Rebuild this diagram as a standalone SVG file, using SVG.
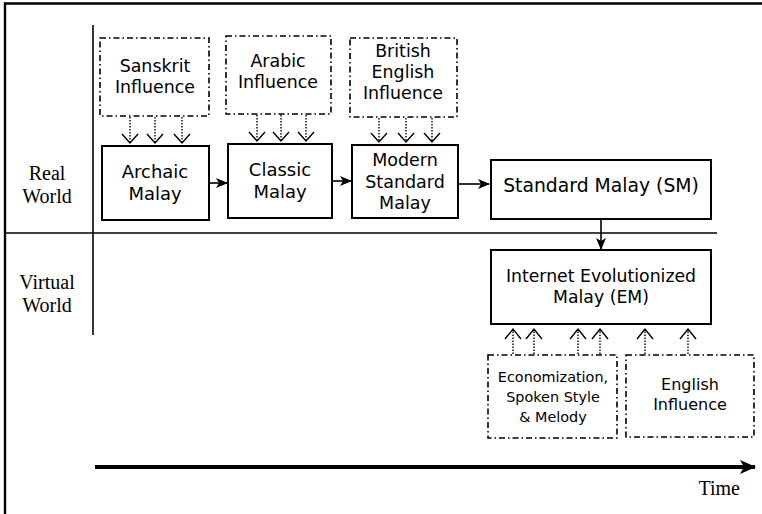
<svg xmlns="http://www.w3.org/2000/svg" width="762" height="514" viewBox="0 0 762 514">
<defs>
<style>
.frame{stroke:#000;stroke-width:2.4;fill:none}
.sep{stroke:#000;stroke-width:1.6;fill:none}
.box{stroke:#000;stroke-width:2;fill:#fff}
.dbox{stroke:#000;stroke-width:1.6;fill:#fff;stroke-dasharray:6 3 1.5 3}
.t{font-family:"DejaVu Sans",Verdana,sans-serif;font-size:18px;fill:#000;text-anchor:middle}
.i{font-size:17.4px}
.e{font-size:14.4px}
.g{font-size:16px}
.s{font-family:"Liberation Serif","Times New Roman",serif;font-size:20px;fill:#000;text-anchor:middle}
.dot{stroke:#000;stroke-width:1.4;stroke-dasharray:1.5 1.5;fill:none}
.chev{stroke:#000;stroke-width:1.4;fill:none}
.arr{stroke:#000;stroke-width:1.6;fill:none}
</style>
<marker id="ah" markerWidth="12" markerHeight="10" refX="11" refY="5" orient="auto" markerUnits="userSpaceOnUse">
<path d="M0,0 L12,5 L0,10 L3,5 Z" fill="#000"/>
</marker>
<marker id="ahT" markerWidth="16" markerHeight="14" refX="15" refY="7" orient="auto" markerUnits="userSpaceOnUse">
<path d="M0,0 L16,7 L0,14 L4,7 Z" fill="#000"/>
</marker>
</defs>
<rect width="762" height="514" fill="#fff"/>
<g id="frame">
<path class="frame" d="M5,514 V3.5 H762"/>
<path class="sep" d="M93,25 V335"/>
<path class="sep" d="M5,233 H717"/>
<text class="s" x="47" y="180">Real</text>
<text class="s" x="47" y="203">World</text>
<text class="s" x="47" y="289">Virtual</text>
<text class="s" x="47" y="312">World</text>
</g>
<g id="sanskrit">
<rect class="dbox" x="100" y="38" width="109" height="78"/>
<text class="t i" x="155" y="72">Sanskrit</text>
<text class="t i" x="155" y="93">Influence</text>
</g>
<g id="arabic">
<rect class="dbox" x="226" y="36" width="105" height="78"/>
<text class="t i" x="278" y="67">Arabic</text>
<text class="t i" x="278" y="88">Influence</text>
</g>
<g id="british">
<rect class="dbox" x="350" y="38" width="107" height="79"/>
<text class="t i" x="403" y="57">British</text>
<text class="t i" x="403" y="78">English</text>
<text class="t i" x="403" y="99">Influence</text>
</g>
<g id="archaic">
<rect class="box" x="102" y="146" width="107" height="74"/>
<text class="t" x="155" y="178">Archaic</text>
<text class="t" x="155" y="200">Malay</text>
</g>
<g id="classic">
<rect class="box" x="228" y="144" width="104" height="74"/>
<text class="t" x="280" y="176">Classic</text>
<text class="t" x="280" y="198">Malay</text>
</g>
<g id="modern">
<rect class="box" x="352" y="145" width="106" height="73"/>
<text class="t" x="405" y="166" style="font-size:17.5px">Modern</text>
<text class="t" x="405" y="188" style="font-size:17.5px">Standard</text>
<text class="t" x="405" y="209" style="font-size:17.5px">Malay</text>
</g>
<g id="sm">
<rect class="box" x="491" y="160" width="220" height="59"/>
<text class="t" x="601" y="192" style="font-size:18.8px">Standard Malay (SM)</text>
</g>
<g id="em">
<rect class="box" x="491" y="250" width="220" height="74"/>
<text class="t" x="601" y="282" style="font-size:17.3px">Internet Evolutionized</text>
<text class="t" x="601" y="303" style="font-size:17.3px">Malay (EM)</text>
</g>
<g id="econ">
<rect class="dbox" x="488" y="355" width="129" height="83"/>
<text class="t e" x="553" y="382">Economization,</text>
<text class="t e" x="553" y="402">Spoken Style</text>
<text class="t e" x="553" y="422">&amp; Melody</text>
</g>
<g id="english">
<rect class="dbox" x="626" y="355" width="128" height="82"/>
<text class="t g" x="690" y="390">English</text>
<text class="t g" x="690" y="410">Influence</text>
</g>
<g id="time">
<path d="M95,467 H755" stroke="#000" stroke-width="4" fill="none" marker-end="url(#ahT)"/>
<text class="s" x="740" y="495" style="text-anchor:end">Time</text>
</g>
<g id="connectors">
<path class="arr" d="M209,183 H227" marker-end="url(#ah)"/>
<path class="arr" d="M332,181 H351" marker-end="url(#ah)"/>
<path class="arr" d="M458,184 H489" marker-end="url(#ah)"/>
<path class="arr" d="M601,219 V249" marker-end="url(#ah)"/>
<g id="down-arrows">
<path class="dot" d="M130,117 V142 M155,117 V142 M182,117 V142 M257,115 V140 M281,115 V140 M306,115 V140 M379,118 V141 M406,118 V141 M432,118 V141"/>
<path class="chev" d="M122,134 L130,143 L138,134 M147,134 L155,143 L163,134 M174,134 L182,143 L190,134 M249,132 L257,141 L265,132 M273,132 L281,141 L289,132 M298,132 L306,141 L314,132 M371,133 L379,142 L387,133 M398,133 L406,142 L414,133 M424,133 L432,142 L440,133"/>
</g>
<g id="up-arrows">
<path class="dot" d="M513,354 V330 M534,354 V330 M578,354 V330 M600,354 V330 M645,354 V330 M688,354 V330"/>
<path class="chev" d="M505,339 L513,329 L521,339 M526,339 L534,329 L542,339 M570,339 L578,329 L586,339 M592,339 L600,329 L608,339 M637,339 L645,329 L653,339 M680,339 L688,329 L696,339"/>
</g>
</g>
</svg>
